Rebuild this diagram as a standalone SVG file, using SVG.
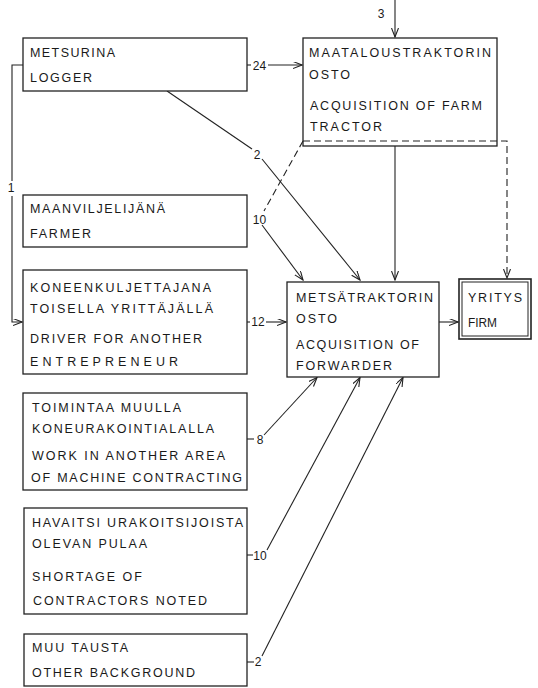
<svg xmlns="http://www.w3.org/2000/svg" width="538" height="688" viewBox="0 0 538 688">
<defs>
<marker id="arr" markerWidth="10" markerHeight="8" refX="9" refY="3.5" orient="auto" markerUnits="userSpaceOnUse">
<path d="M0,0 L9,3.5 L0,7" fill="none" stroke="#222" stroke-width="1.1"/>
</marker>
</defs>
<style>
rect{fill:#fff;stroke:#222;stroke-width:1.3}
text{font-family:"Liberation Sans",Arial,sans-serif;font-size:12.5px;fill:#1a1a1a}
.n{font-size:12px;text-anchor:middle}
.c path,.c line{fill:none;stroke:#222;stroke-width:1.1}
.d{stroke-dasharray:7,4}
</style>
<rect x="0" y="0" width="538" height="688" style="fill:#fff;stroke:none"/>
<g class="c" id="connectors">
<path d="M395,0 V37" marker-end="url(#arr)"/>
<text class="n" x="381" y="18">3</text>
<path d="M247,65 H251"/>
<path d="M268,65 H302" marker-end="url(#arr)"/>
<text class="n" x="259.5" y="69.5">24</text>
<path d="M23,65 H12 V181"/>
<path d="M12,196 V322 H22" marker-end="url(#arr)"/>
<text class="n" x="11" y="192">1</text>
<path d="M167,91 L252,149"/>
<path d="M262,159 L360,280" marker-end="url(#arr)"/>
<text class="n" x="257" y="159">2</text>
<path class="d" d="M303,141 L264,211"/>
<path d="M262,225 L303,280" marker-end="url(#arr)"/>
<text class="n" x="259.5" y="224">10</text>
<path d="M395,146 V280" marker-end="url(#arr)"/>
<path class="d" d="M303,141 H507 V278" marker-end="url(#arr)"/>
<path d="M247,322 H250"/>
<path d="M266,322 H286" marker-end="url(#arr)"/>
<text class="n" x="258" y="326">12</text>
<path d="M439,322 H458" marker-end="url(#arr)"/>
<path d="M247,439 H254"/>
<path d="M264,435 L317,377.5" marker-end="url(#arr)"/>
<text class="n" x="260" y="444">8</text>
<path d="M247,555 H253"/>
<path d="M267,550 L360,377.5" marker-end="url(#arr)"/>
<text class="n" x="260" y="560">10</text>
<path d="M247,662 H254"/>
<path d="M262,656 L403,377.5" marker-end="url(#arr)"/>
<text class="n" x="258" y="666">2</text>
</g>
<g id="metsurina">
<rect x="23" y="38" width="224" height="53"/>
<text x="30" y="57" textLength="85">METSURINA</text>
<text x="30" y="82" textLength="62">LOGGER</text>
</g>
<g id="maatalous">
<rect x="303" y="38" width="194" height="108" style="fill:none"/>
<text x="309" y="57" textLength="182">MAATALOUSTRAKTORIN</text>
<text x="309" y="79" textLength="41">OSTO</text>
<text x="310" y="110" textLength="172">ACQUISITION OF FARM</text>
<text x="310" y="131" textLength="72">TRACTOR</text>
</g>
<g id="maanviljelija">
<rect x="23" y="195" width="224" height="52"/>
<text x="30" y="213" textLength="135">MAANVILJELIJÄNÄ</text>
<text x="30" y="238" textLength="61">FARMER</text>
</g>
<g id="koneenkuljettaja">
<rect x="23" y="270" width="224" height="104"/>
<text x="30" y="292" textLength="181">KONEENKULJETTAJANA</text>
<text x="30" y="313" textLength="183">TOISELLA YRITTÄJÄLLÄ</text>
<text x="30" y="343" textLength="172">DRIVER FOR ANOTHER</text>
<text x="30" y="366" textLength="148">ENTREPRENEUR</text>
</g>
<g id="metsatraktori">
<rect x="287" y="282" width="152" height="95"/>
<text x="296" y="302" textLength="137">METSÄTRAKTORIN</text>
<text x="296" y="323" textLength="41">OSTO</text>
<text x="296" y="349" textLength="123">ACQUISITION OF</text>
<text x="296" y="370" textLength="96">FORWARDER</text>
</g>
<g id="yritys">
<rect x="459" y="279" width="72" height="60" style="stroke-width:1.6"/>
<rect x="462" y="282" width="66" height="54" style="stroke-width:1"/>
<text x="468" y="302" textLength="54">YRITYS</text>
<text x="468" y="327" textLength="29" lengthAdjust="spacingAndGlyphs">FIRM</text>
</g>
<g id="toimintaa">
<rect x="23" y="393" width="224" height="97"/>
<text x="32" y="412" textLength="149">TOIMINTAA MUULLA</text>
<text x="32" y="433" textLength="182">KONEURAKOINTIALALLA</text>
<text x="32" y="460" textLength="193">WORK IN ANOTHER AREA</text>
<text x="31" y="482" textLength="211">OF MACHINE CONTRACTING</text>
</g>
<g id="havaitsi">
<rect x="24" y="508" width="223" height="106"/>
<text x="32" y="527" textLength="211">HAVAITSI URAKOITSIJOISTA</text>
<text x="32" y="548" textLength="115">OLEVAN PULAA</text>
<text x="32" y="581" textLength="110">SHORTAGE OF</text>
<text x="33" y="605" textLength="174">CONTRACTORS NOTED</text>
</g>
<g id="muu">
<rect x="24" y="634" width="223" height="52"/>
<text x="32" y="652" textLength="96">MUU TAUSTA</text>
<text x="32" y="677" textLength="163">OTHER BACKGROUND</text>
</g>
</svg>
